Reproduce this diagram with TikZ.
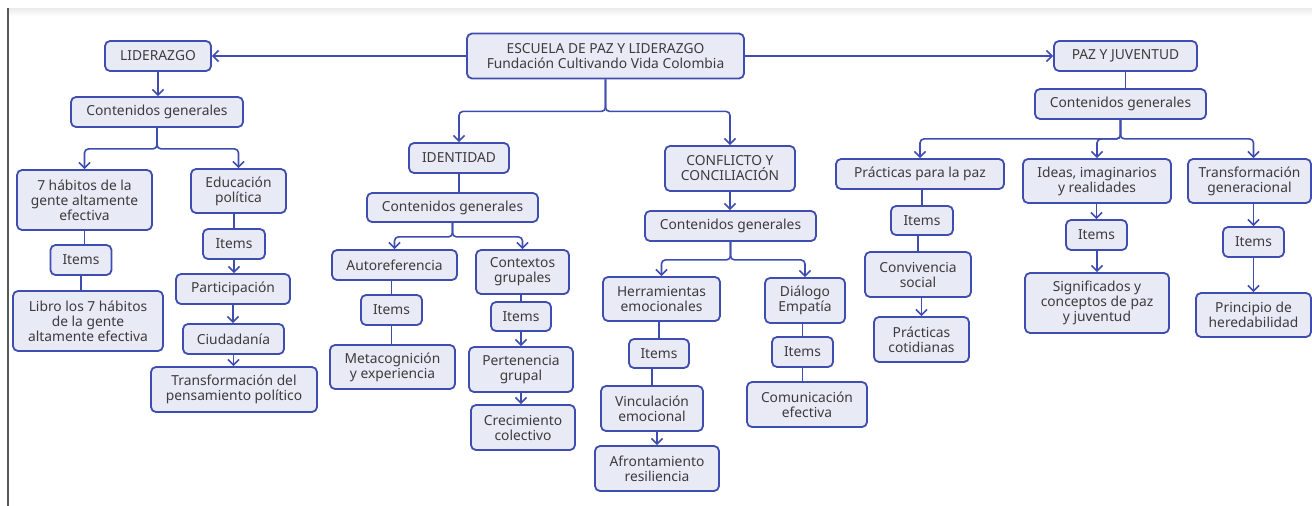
\documentclass[tikz,border=0pt]{standalone}
\usepackage{fontspec}
\setmainfont{Noto Sans}
\usetikzlibrary{arrows.meta}
\definecolor{bordc}{HTML}{3F4DB0}
\definecolor{fillc}{HTML}{E8EAF6}
\definecolor{txtc}{HTML}{3C3C3C}
\newcommand\mybox[6]{\node[box,minimum width=#4pt,minimum height=#5pt] (#1) at (#2,#3) {#6};}
\begin{document}
\begin{tikzpicture}[x=1pt,y=-1pt,
  box/.style={draw=bordc, fill=fillc, line width=1.8pt, rounded corners=5pt, align=center, inner sep=0pt, text=txtc, font=\fontsize{13.8}{15}\selectfont},
  ln/.style={draw=bordc, line width=1.6pt},
  arr/.style={ln, -{Straight Barb[length=5.5pt,width=11pt]}},
  br/.style={rounded corners=4pt}]
\useasboundingbox (0,0) rectangle (1312,506);
\fill[white] (0,0) rectangle (1312,506);
\shade[top color=black!8, bottom color=white] (8,8) rectangle (1312,16);
\draw[black!65, line width=1.2pt] (8,8) -- (8,506);

% root
\mybox{esc}{605.5}{56}{277}{45}{ESCUELA DE PAZ Y LIDERAZGO\\Fundación Cultivando Vida Colombia}
\mybox{lid}{158}{56}{106}{30}{LIDERAZGO}
\mybox{paz}{1125.5}{56}{143}{30}{PAZ Y JUVENTUD}

% left branch
\mybox{cgL}{157}{112}{172}{30}{Contenidos generales}
\mybox{hab}{84.5}{200}{135}{60}{7 hábitos de la\\gente altamente\\efectiva}
\mybox{edu}{238.5}{191}{95}{44}{Educación\\política}
\mybox{itH}{81}{260}{61}{30}{Items}
\mybox{libro}{88}{321}{150}{60}{Libro los 7 hábitos\\de la gente\\altamente efectiva}
\mybox{itE}{234}{244}{62}{30}{Items}
\mybox{part}{233}{289}{114}{30}{Participación}
\mybox{ciud}{233.5}{339}{101}{30}{Ciudadanía}
\mybox{trans}{234}{389.5}{166}{45}{Transformación del\\pensamiento político}

% middle
\mybox{ide}{459}{158}{100}{30}{IDENTIDAD}
\mybox{cgI}{452.5}{207.5}{171}{29}{Contenidos generales}
\mybox{con}{730}{168.5}{130}{45}{CONFLICTO Y\\CONCILIACIÓN}
\mybox{cgC}{730.5}{226}{171}{30}{Contenidos generales}
\mybox{auto}{394.5}{265}{125}{30}{Autoreferencia}
\mybox{ctx}{522.5}{272}{93}{44}{Contextos\\grupales}
\mybox{itA}{391.5}{310}{61}{30}{Items}
\mybox{meta}{392.5}{367}{125}{44}{Metacognición\\y experiencia}
\mybox{itC}{521}{316.5}{60}{29}{Items}
\mybox{pert}{521}{369.5}{104}{45}{Pertenencia\\grupal}
\mybox{crec}{523}{427.5}{104}{45}{Crecimiento\\colectivo}
\mybox{herr}{661.5}{299}{117}{44}{Herramientas\\emocionales}
\mybox{dia}{805}{300.5}{80}{45}{Diálogo\\Empatía}
\mybox{itHe}{659}{353.5}{60}{29}{Items}
\mybox{vinc}{652}{408.5}{102}{45}{Vinculación\\emocional}
\mybox{afr}{657}{468.5}{124}{45}{Afrontamiento\\resiliencia}
\mybox{itD}{802.5}{352}{61}{30}{Items}
\mybox{com}{807}{404.5}{120}{45}{Comunicación\\efectiva}

% right
\mybox{cgP}{1120.5}{104}{171}{30}{Contenidos generales}
\mybox{prac}{920}{174}{168}{30}{Prácticas para la paz}
\mybox{ideas}{1097}{181}{148}{44}{Ideas, imaginarios\\y realidades}
\mybox{tgen}{1249.5}{181}{123}{44}{Transformación\\generacional}
\mybox{itP}{922}{220.5}{62}{29}{Items}
\mybox{conv}{918}{274.5}{106}{45}{Convivencia\\social}
\mybox{pcot}{921.5}{339.5}{95}{45}{Prácticas\\cotidianas}
\mybox{itI}{1096.5}{235}{61}{30}{Items}
\mybox{sig}{1097}{303}{144}{60}{Significados y\\conceptos de paz\\y juventud}
\mybox{itT}{1253.5}{242}{61}{30}{Items}
\mybox{prin}{1253.5}{315}{115}{44}{Principio de\\heredabilidad}

% connectors: root
\draw[arr] (esc.west) -- (lid.east);
\draw[arr] (esc.east) -- (paz.east -| paz.west);
\draw[arr,br] (esc.south) -- ++(0,32) -| (ide.north);
\draw[arr,br] (esc.south) -- ++(0,32) -| (con.north);

% left
\draw[arr] (lid.south) -- (lid.south |- cgL.north);
\draw[arr,br] (cgL.south) -- ++(0,21) -| (hab.north);
\draw[arr,br] (cgL.south) -- ++(0,21) -| (edu.north);
\draw[ln] (hab.south) -- (hab.south |- itH.north);
\draw[ln] (itH.south) -- (itH.south |- libro.north);
\draw[ln] (edu.south -| itE.north) -- (itE.north);
\draw[arr] (itE.south) -- (itE.south |- part.north);
\draw[arr] (part.south) -- (part.south |- ciud.north);
\draw[arr] (ciud.south) -- (ciud.south |- trans.north);

% identidad
\draw[ln] (ide.south) -- (ide.south |- cgI.north);
\draw[arr,br] (cgI.south) -- ++(0,14) -| (auto.north);
\draw[arr,br] (cgI.south) -- ++(0,14) -| (ctx.north);
\draw[ln] (auto.south -| itA.north) -- (itA.north);
\draw[ln] (itA.south) -- (itA.south |- meta.north);
\draw[ln] (ctx.south -| itC.north) -- (itC.north);
\draw[arr] (itC.south) -- (itC.south |- pert.north);
\draw[arr] (pert.south) -- (pert.south |- crec.north);

% conflicto
\draw[arr] (con.south) -- (con.south |- cgC.north);
\draw[arr,br] (cgC.south) -- ++(0,18) -| (herr.north);
\draw[arr,br] (cgC.south) -- ++(0,18) -| (dia.north);
\draw[ln] (herr.south -| itHe.north) -- (itHe.north);
\draw[ln] (itHe.south -| vinc.north) -- (vinc.north);
\draw[arr] (vinc.south -| afr.north) -- (afr.north);
\draw[ln] (dia.south -| itD.north) -- (itD.north);
\draw[ln] (itD.south) -- (itD.south |- com.north);

% paz y juventud
\draw[ln] (paz.south) -- (paz.south |- cgP.north);
\draw[arr,br] (cgP.south) -- ++(0,19) -| (prac.north);
\draw[arr,br] (cgP.south) -- ++(0,19) -| (ideas.north);
\draw[arr,br] (cgP.south) -- ++(0,19) -| (itT.north |- tgen.north);
\draw[ln] (prac.south -| itP.north) -- (itP.north);
\draw[ln] (itP.south -| conv.north) -- (conv.north);
\draw[arr] (conv.south -| pcot.north) -- (pcot.north);
\draw[arr] (ideas.south -| itI.north) -- (itI.north);
\draw[arr] (itI.south -| sig.north) -- (sig.north);
\draw[arr] (tgen.south -| itT.north) -- (itT.north);
\draw[arr] (itT.south) -- (itT.south |- prin.north);
\end{tikzpicture}
\end{document}
